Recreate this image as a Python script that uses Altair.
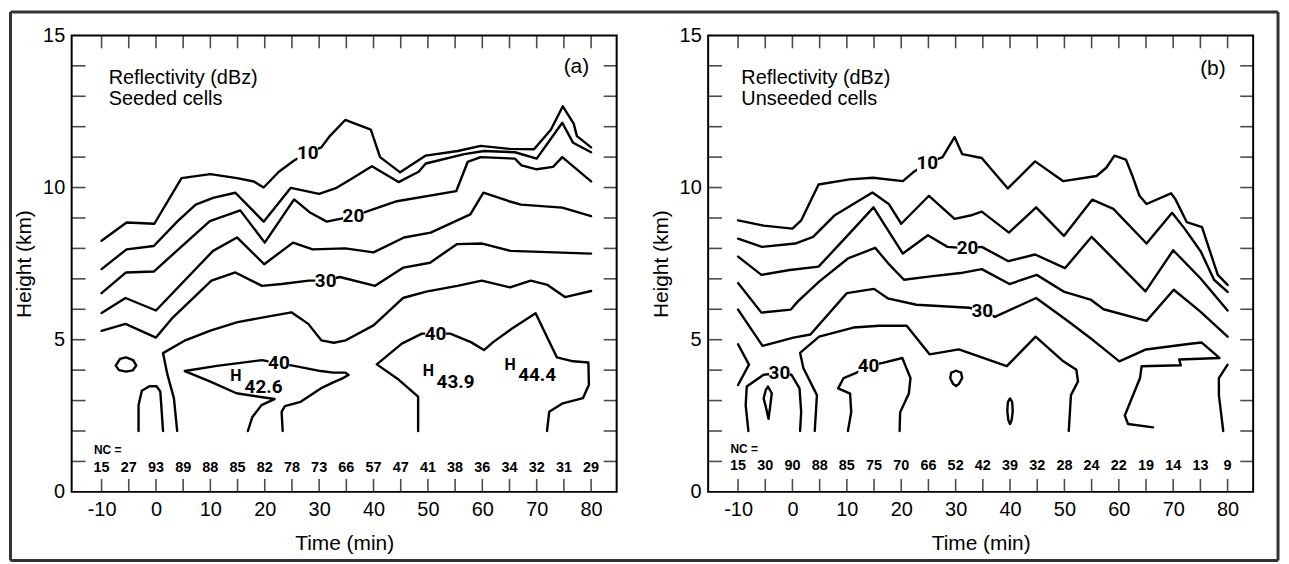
import altair as alt
import pandas as pd

# ---------------- data ----------------
NC_TIMES = list(range(-10, 81, 5))
NC_A = [15, 27, 93, 89, 88, 85, 82, 78, 73, 66, 57, 47, 41, 38, 36, 34, 32, 31, 29]
NC_B = [15, 30, 90, 88, 85, 75, 70, 66, 52, 42, 39, 32, 28, 24, 22, 19, 14, 13, 9]

X_LABELS = list(range(-10, 81, 10))
Y_LABELS = [0, 5, 10, 15]
X_TICKS = list(range(-10, 81, 5))
Y_TICKS = list(range(1, 15))

# ---- panel (a): seeded cells (time in min, height in km) ----
A10_T = [-10, -5.4, -0.3, 4.7, 10.0, 14.9, 18.0, 19.8, 22.6, 25.4, 28.0, 30.4, 32.0, 34.8, 39.5, 41.2, 44.9, 49.6, 55.5, 59.7, 65.0, 69.5, 72.6, 74.8, 76.8, 77.4, 80]
A10_H = [8.25, 8.85, 8.81, 10.31, 10.44, 10.31, 10.2, 10.0, 10.52, 10.89, 11.15, 11.32, 11.7, 12.22, 11.9, 11.0, 10.5, 11.05, 11.2, 11.37, 11.27, 11.26, 11.9, 12.67, 12.1, 11.69, 11.32]
A15_T = [-10, -5.4, -0.4, 3.9, 7.3, 10.5, 14.6, 19.8, 24.8, 30.0, 33.2, 35.6, 39.7, 44.6, 48.3, 49.6, 56.7, 60.3, 66.0, 70.0, 74.7, 76.7, 80]
A15_H = [7.32, 7.97, 8.08, 8.88, 9.44, 9.66, 9.83, 8.88, 9.99, 9.79, 9.99, 10.25, 10.7, 10.18, 10.52, 10.79, 11.1, 11.2, 11.16, 10.95, 12.13, 11.47, 11.16]
A20_T = [-10, -5.5, -0.4, 9.9, 15.5, 20.0, 25.4, 28.4, 31.4, 36.3, 44.3, 55.2, 57.3, 59.7, 66.0, 67.2, 70.0, 73.0, 74.7, 80]
A20_H = [6.53, 7.21, 7.24, 8.9, 9.25, 8.19, 9.61, 9.17, 8.88, 9.06, 9.55, 9.88, 10.84, 11.0, 10.95, 10.73, 10.6, 10.68, 11.0, 10.2]
A25_T = [-10, -5.6, 0, 10.5, 14.9, 19.9, 25.2, 28.8, 34.8, 40.0, 45.6, 50.5, 57.8, 60.2, 64.9, 67.1, 74.7, 80]
A25_H = [5.88, 6.37, 5.96, 7.92, 8.36, 7.48, 8.19, 7.97, 8.0, 7.87, 8.36, 8.52, 9.12, 9.83, 9.55, 9.44, 9.34, 9.06]
A30_T = [-10, -5.6, 0, 2.9, 10.2, 14.6, 19.5, 23.1, 28.1, 31.2, 33.8, 40.3, 45.5, 50.4, 55.3, 60.0, 65.2, 80]
A30_H = [5.29, 5.52, 5.07, 5.69, 6.94, 7.21, 6.77, 6.83, 6.94, 6.95, 7.06, 6.77, 7.37, 7.53, 8.14, 8.16, 7.92, 7.83]
A35_T = [3.9, 3.3, 2.1, 1.3, 5.4, 10.0, 15.0, 20.0, 24.9, 28.0, 30.4, 32.7, 34.9, 40.0, 45.4, 49.7, 55.4, 59.9, 65.1, 68.9, 72.0, 75.2, 80]
A35_H = [2.0, 3.08, 3.86, 4.56, 4.98, 5.3, 5.58, 5.74, 5.9, 5.52, 4.98, 4.9, 4.98, 5.47, 6.37, 6.58, 6.77, 6.94, 6.72, 6.94, 6.8, 6.4, 6.6]
A40W_T = [16.9, 17.7, 19.4, 21.8, 14.8, 9.9, 5.3, 11.2, 19.5, 22.6, 25.4, 30.3, 32.6, 34.8, 35.4, 34.2, 32.6, 30.3, 26.6, 23.7, 23.1, 23.3]
A40W_H = [2.0, 2.45, 2.85, 3.05, 3.24, 3.63, 3.97, 4.14, 4.33, 4.22, 4.14, 3.97, 3.92, 3.92, 3.84, 3.72, 3.6, 3.4, 2.96, 2.82, 2.63, 2.0]
A40R_T = [48.2, 48.2, 44.6, 40.6, 45.2, 48.9, 51.4, 54.1, 57.9, 60.3, 62.0, 65.4, 69.8, 71.9, 73.7, 76.7, 79.5, 79.6, 78.5, 74.8, 72.3, 71.9]
A40R_H = [2.0, 3.13, 3.69, 4.19, 4.87, 5.2, 5.2, 5.2, 4.92, 4.66, 4.92, 5.36, 5.87, 5.09, 4.42, 4.29, 4.25, 3.52, 3.08, 2.91, 2.63, 2.0]
A_ARCH_T = [-3.2, -3.2, -2.6, -1.2, 0.1, 0.8, 1.1, 1.3]
A_ARCH_H = [2.0, 2.85, 3.32, 3.47, 3.47, 3.3, 2.52, 2.0]
A_OVAL_T = [-7.4, -6.6, -5.5, -4.2, -3.6, -4.3, -5.5, -6.8, -7.4]
A_OVAL_H = [4.15, 4.37, 4.42, 4.33, 4.15, 3.99, 3.95, 4.0, 4.15]

# ---- panel (b): unseeded cells ----
B10_T = [-10, -5.3, 0, 1.6, 4.8, 10.5, 14.8, 20.3, 22.4, 24.8, 27.6, 29.8, 31.2, 34.8, 39.6, 44.6, 49.8, 55.9, 57.7, 59.2, 61.3, 62.4, 63.8, 65.1, 69.6, 70.4, 72.5, 75.3, 76.4, 78.2, 80]
B10_H = [8.92, 8.75, 8.65, 8.92, 10.1, 10.27, 10.32, 10.21, 10.53, 10.8, 11.0, 11.66, 11.1, 10.97, 9.97, 10.86, 10.21, 10.38, 10.65, 11.05, 10.92, 10.43, 9.73, 9.46, 9.81, 9.62, 8.86, 8.7, 8.1, 7.13, 6.8]
B15_T = [-10, -5.6, 0.5, 3.8, 7.7, 14.7, 17.7, 20.0, 25.1, 29.8, 32.7, 34.8, 39.8, 44.8, 49.9, 55.1, 59.0, 65.1, 69.8, 72.1, 75.1, 77.5, 80]
B15_H = [8.32, 8.05, 8.16, 8.38, 9.08, 9.84, 9.46, 8.81, 9.73, 8.97, 9.08, 9.21, 8.52, 9.35, 8.41, 9.6, 9.3, 8.16, 9.17, 8.65, 7.89, 6.97, 6.57]
B20_T = [-10, -5.7, -0.5, 4.8, 9.9, 14.9, 20.3, 24.9, 28.5, 32.2, 34.8, 39.7, 44.6, 50.1, 55.0, 64.9, 70.0, 75.0, 80]
B20_H = [7.73, 7.13, 7.29, 7.4, 8.38, 9.35, 7.83, 8.43, 8.05, 8.0, 8.05, 7.58, 7.8, 7.35, 8.38, 6.59, 7.94, 7.02, 5.96]
B25_T = [-10, -5.7, -0.3, 1.0, 4.9, 10.2, 15.2, 17.6, 20.5, 25.4, 30.9, 34.8, 39.9, 44.9, 50.0, 54.8, 57.2, 65.1, 70.1, 74.9, 80]
B25_H = [6.86, 5.89, 5.99, 6.26, 6.91, 7.67, 8.02, 7.51, 6.97, 7.08, 7.19, 7.32, 6.83, 7.13, 6.57, 6.32, 6.0, 5.62, 6.64, 5.94, 5.1]
B30_T = [-10, -5.5, 0.2, 3.3, 10.0, 15.0, 17.5, 22.8, 32.5, 34.9, 37.2, 44.8, 50.5, 55.3, 60.1, 65.0, 72.4, 75.2, 78.5, 71.1, 71.4, 64.2, 63.9, 61.1, 61.7, 66.3]
B30_H = [5.99, 4.8, 5.07, 5.17, 6.53, 6.67, 6.36, 6.15, 6.05, 5.95, 5.75, 6.37, 5.63, 4.98, 4.29, 4.68, 4.85, 4.91, 4.4, 4.35, 4.16, 4.13, 3.74, 2.51, 2.23, 2.12]
B35_T = [4.1, 4.5, 2.0, 1.4, 4.9, 11.2, 16.0, 21.0, 25.2, 30.6, 39.4, 44.7, 49.8, 52.2, 52.5, 51.2, 50.8]
B35_H = [2.0, 3.18, 4.07, 4.57, 5.1, 5.4, 5.46, 5.46, 4.52, 4.68, 4.13, 5.1, 4.29, 4.01, 3.63, 3.18, 2.0]
B_CHEV_T = [-10, -8.0, -10]
B_CHEV_H = [4.85, 4.18, 3.51]
B_ARCH_T = [-8.1, -8.6, -8.4, -5.3, -2.4, -0.2, 1.3, 1.6, 1.4]
B_ARCH_H = [2.0, 2.84, 3.46, 3.85, 3.9, 3.85, 3.4, 2.62, 2.0]
B_DROP_T = [-4.5, -3.8, -4.1, -4.4, -4.9, -5.3, -4.9, -4.5]
B_DROP_H = [3.46, 3.24, 2.8, 2.4, 2.8, 3.07, 3.35, 3.46]
B40_T = [10.2, 10.8, 10.6, 8.4, 9.4, 11.6, 14.0, 16.6, 20.2, 20.8, 21.7, 21.4, 19.8, 19.7]
B40_H = [2.0, 2.62, 3.23, 3.4, 3.74, 3.9, 4.14, 4.24, 4.4, 4.13, 3.74, 3.23, 2.62, 2.0]
B_RING_T = [30.1, 31.0, 31.2, 30.6, 30.1, 29.5, 29.0, 29.2, 30.1]
B_RING_H = [3.98, 3.92, 3.74, 3.55, 3.48, 3.55, 3.74, 3.92, 3.98]
B_SLIT_T = [40.0, 40.4, 40.5, 40.3, 40.0, 39.7, 39.5, 39.6, 40.0]
B_SLIT_H = [3.07, 2.95, 2.65, 2.35, 2.23, 2.35, 2.65, 2.95, 3.07]
B_EDGE_T = [80, 78.4, 78.4, 79.2]
B_EDGE_H = [4.18, 3.74, 3.18, 2.0]

# contour labels
A_LAB_TXT = ["10", "20", "30", "40", "40"]
A_LAB_T = [27.9, 36.3, 31.2, 22.6, 51.4]
A_LAB_H = [11.12, 9.08, 6.92, 4.22, 5.2]
B_LAB_TXT = ["10", "20", "30", "30", "40"]
B_LAB_T = [24.8, 32.2, 34.9, -2.4, 14.0]
B_LAB_H = [10.8, 8.0, 5.94, 3.9, 4.14]

# maxima annotations (a): "H" marker and its value (value text starts just right of the H)
A_MAX_VAL = ["42.6", "43.9", "44.4"]
A_MAX_HT = [14.7, 50.1, 65.1]
A_MAX_HH = [3.82, 3.98, 4.18]
A_MAX_NT = [16.3, 51.6, 66.6]
A_MAX_NH = [3.45, 3.62, 3.85]

PANEL_A = [("a10", A10_T, A10_H), ("a15", A15_T, A15_H), ("a20", A20_T, A20_H),
           ("a25", A25_T, A25_H), ("a30", A30_T, A30_H), ("a35", A35_T, A35_H),
           ("a40w", A40W_T, A40W_H), ("a40r", A40R_T, A40R_H),
           ("aarch", A_ARCH_T, A_ARCH_H), ("aoval", A_OVAL_T, A_OVAL_H)]
PANEL_B = [("b10", B10_T, B10_H), ("b15", B15_T, B15_H), ("b20", B20_T, B20_H),
           ("b25", B25_T, B25_H), ("b30", B30_T, B30_H), ("b35", B35_T, B35_H),
           ("bchev", B_CHEV_T, B_CHEV_H), ("barch", B_ARCH_T, B_ARCH_H),
           ("bdrop", B_DROP_T, B_DROP_H), ("b40", B40_T, B40_H),
           ("bring", B_RING_T, B_RING_H), ("bslit", B_SLIT_T, B_SLIT_H),
           ("bedge", B_EDGE_T, B_EDGE_H)]

# ---------------- styling ----------------
W, H = 548, 459
XS = alt.Scale(domain=[-15.5, 84.7], nice=False, zero=False)
YS = alt.Scale(domain=[0, 15], nice=False, zero=False)
SANS = "Liberation Sans, Arial, Helvetica, sans-serif"
NARROW = "Roboto, Liberation Sans, sans-serif"

X_AXIS = alt.Axis(values=X_LABELS, title="Time (min)", labelPadding=8, titlePadding=13,
                  labelOverlap=False, labelFlush=False,
                  labelExpr="datum.value < 0 ? '-' + (-datum.value) : '' + datum.value")
Y_AXIS = alt.Axis(values=Y_LABELS, title="Height (km)", labelPadding=7, titlePadding=8,
                  labelOverlap=False, labelFlush=False)


def xq(field="t"):
    return alt.X(f"{field}:Q", scale=XS, axis=X_AXIS)


def yq(field="h"):
    return alt.Y(f"{field}:Q", scale=YS, axis=Y_AXIS)


def contour_df(items):
    rows = []
    for cid, ts, hs in items:
        for i, (t, h) in enumerate(zip(ts, hs)):
            rows.append({"t": t, "h": h, "cid": cid, "seq": i})
    return pd.DataFrame(rows)


def label_df(txts, ts, hs):
    d = pd.DataFrame({"txt": txts, "t": ts, "h": hs})
    half_w = d["txt"].str.len() * 0.95
    d["t1"] = d["t"] - half_w
    d["t2"] = d["t"] + half_w
    d["h1"] = d["h"] - 0.27
    d["h2"] = d["h"] + 0.27
    return d


def txt_layer(df, **kw):
    base = dict(color="black", baseline="middle", align="center")
    base.update(kw)
    return alt.Chart(df).mark_text(**base).encode(x=xq(), y=yq(), text="txt:N")


def panel(items, labels, title2, tag, nc, nc_h, ncl_h, title_t, tag_h, maxima=None, border=False):
    layers = []
    lines = alt.Chart(contour_df(items)).mark_line(
        color="black", strokeWidth=2.4, strokeJoin="round", strokeCap="round"
    ).encode(x=xq(), y=yq(), detail="cid:N", order="seq:Q")
    layers.append(lines)

    ldf = label_df(*labels)
    layers.append(alt.Chart(ldf).mark_rect(color="white").encode(
        x=xq("t1"), x2="t2:Q", y=yq("h1"), y2="h2:Q"))
    layers.append(txt_layer(ldf, font=NARROW, fontSize=19, fontWeight="bold"))

    if maxima is not None:
        vals, ht, hh, nt, nh = maxima
        hdf = pd.DataFrame({"t": ht, "h": hh, "txt": ["H"] * len(ht)})
        ndf = pd.DataFrame({"t": nt, "h": nh, "txt": vals})
        layers.append(txt_layer(hdf, font=NARROW, fontSize=16, fontWeight="bold"))
        layers.append(txt_layer(ndf, font=NARROW, fontSize=19, fontWeight="bold", align="left"))

    # NC row
    ncdf = pd.DataFrame({"t": NC_TIMES, "h": [nc_h] * len(NC_TIMES), "txt": [str(v) for v in nc]})
    layers.append(txt_layer(ncdf, font=SANS, fontSize=14.5, fontWeight="bold"))
    layers.append(txt_layer(pd.DataFrame({"t": [-11.4], "h": [ncl_h], "txt": ["NC ="]}),
                            font=SANS, fontSize=12, fontWeight="bold", align="left"))

    # panel text
    tdf = pd.DataFrame({"t": [title_t, title_t], "h": [13.6, 12.9],
                        "txt": ["Reflectivity (dBz)", title2]})
    layers.append(txt_layer(tdf, font=SANS, fontSize=20, align="left"))
    layers.append(txt_layer(pd.DataFrame({"t": [77.3], "h": [tag_h], "txt": [tag]}),
                            font=SANS, fontSize=21))

    # inward ticks
    xt = pd.DataFrame({"t": X_TICKS})
    yt = pd.DataFrame({"h": Y_TICKS})
    layers.append(alt.Chart(xt).mark_tick(orient="vertical", size=13, thickness=1.6, color="black")
                  .encode(x=xq(), y=alt.value(6.5)))
    layers.append(alt.Chart(xt).mark_tick(orient="vertical", size=13, thickness=1.6, color="black")
                  .encode(x=xq(), y=alt.value(H - 6.5)))
    layers.append(alt.Chart(yt).mark_tick(orient="horizontal", size=14, thickness=1.6, color="black")
                  .encode(y=yq(), x=alt.value(7)))
    layers.append(alt.Chart(yt).mark_tick(orient="horizontal", size=13, thickness=1.6, color="black")
                  .encode(y=yq(), x=alt.value(W - 6.5)))

    if border:
        one = pd.DataFrame({"k": [0]})
        L, R, T, B = -61.5, 1213, -23.5, 528
        for enc in [dict(x=alt.value(L), x2=alt.value(R), y=alt.value(T)),
                    dict(x=alt.value(L), x2=alt.value(R), y=alt.value(B)),
                    dict(x=alt.value(L), y=alt.value(T), y2=alt.value(B)),
                    dict(x=alt.value(R), y=alt.value(T), y2=alt.value(B))]:
            layers.append(alt.Chart(one).mark_rule(color="#333333", strokeWidth=3).encode(**enc))

    return alt.layer(*layers).properties(width=W, height=H)


pa = panel(PANEL_A, (A_LAB_TXT, A_LAB_T, A_LAB_H), "Seeded cells", "(a)", NC_A, 0.8, 1.36, -8.7, 13.95,
           maxima=(A_MAX_VAL, A_MAX_HT, A_MAX_HH, A_MAX_NT, A_MAX_NH), border=True)
pb = panel(PANEL_B, (B_LAB_TXT, B_LAB_T, B_LAB_H), "Unseeded cells", "(b)", NC_B, 0.84, 1.41, -9.4, 13.9)

chart = alt.hconcat(pa, pb, spacing=92, bounds="flush").properties(
    padding=0, background="white"
).configure_view(
    stroke="black", strokeWidth=2
).configure_axis(
    domain=False, ticks=False, tickSize=0, grid=False,
    labelFont=SANS, labelFontSize=20, labelColor="black",
    titleFont=SANS, titleFontSize=21, titleFontWeight="normal", titleColor="black"
)

chart.save("out.html", embed_options={"renderer": "svg", "actions": False})
